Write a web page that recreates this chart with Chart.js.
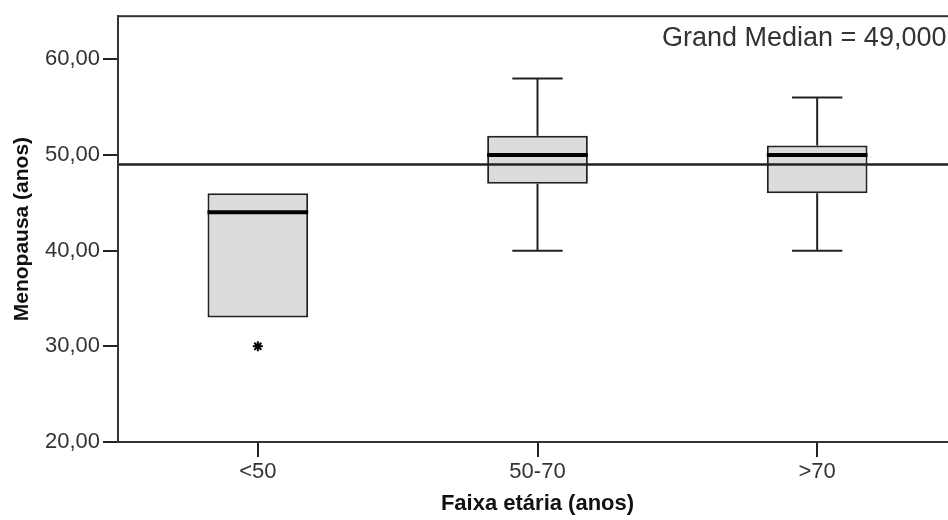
<!DOCTYPE html>
<html>
<head>
<meta charset="utf-8">
<script src="https://cdn.jsdelivr.net/npm/chart.js@4/dist/chart.umd.min.js"></script>
<style>
  html, body { margin: 0; padding: 0; background: #fff; overflow: hidden; }
  #wrap { width: 948px; height: 520px; overflow: hidden; }
</style>
</head>
<body>
<div id="wrap"><canvas id="myChart" width="964" height="520"></canvas></div>
<script>
// boxplot values
var categories = ['<50', '50-70', '>70'];
var whiskerLow = [33, 40, 40];
var q1 = [33, 47, 46];
var median = [44, 50, 50];
var q3 = [46, 52, 51];
var whiskerHigh = [46, 58, 56];
var outliers = [30, null, null];
var grandMedian = 49;
var yTicks = [20, 30, 40, 50, 60];

var lineColor = '#222';
var textColor = '#333';
var fontFamily = '"Liberation Sans", Arial, sans-serif';

var boxes = [];
for (var i = 0; i < categories.length; i++) {
    boxes.push([q1[i], q3[i]]);
}

function fmt(v, d) {
    return v.toFixed(d).replace('.', ',');
}

// whiskers, medians, grand median line and the frame
var boxplotExtras = {
    id: 'boxplotExtras',
    beforeDatasetsDraw: function(chart) {
        var ctx = chart.ctx, x = chart.scales.x, y = chart.scales.y;
        var meta = chart.getDatasetMeta(0);
        ctx.save();
        ctx.strokeStyle = lineColor;
        ctx.lineWidth = 2;
        for (var i = 0; i < categories.length; i++) {
            var cx = x.getPixelForValue(i);
            var capHalf = meta.data[i].width / 4;
            ctx.beginPath();
            if (whiskerHigh[i] > q3[i]) {
                ctx.moveTo(cx, y.getPixelForValue(q3[i]));
                ctx.lineTo(cx, y.getPixelForValue(whiskerHigh[i]));
                ctx.moveTo(cx - capHalf, y.getPixelForValue(whiskerHigh[i]));
                ctx.lineTo(cx + capHalf, y.getPixelForValue(whiskerHigh[i]));
            }
            if (whiskerLow[i] < q1[i]) {
                ctx.moveTo(cx, y.getPixelForValue(q1[i]));
                ctx.lineTo(cx, y.getPixelForValue(whiskerLow[i]));
                ctx.moveTo(cx - capHalf, y.getPixelForValue(whiskerLow[i]));
                ctx.lineTo(cx + capHalf, y.getPixelForValue(whiskerLow[i]));
            }
            ctx.stroke();
        }
        ctx.restore();
    },
    afterDatasetsDraw: function(chart) {
        var ctx = chart.ctx, y = chart.scales.y;
        var area = chart.chartArea;
        var meta = chart.getDatasetMeta(0);
        ctx.save();
        ctx.strokeStyle = '#000';
        ctx.lineWidth = 4;
        for (var i = 0; i < categories.length; i++) {
            var bar = meta.data[i];
            var my = y.getPixelForValue(median[i]);
            ctx.beginPath();
            ctx.moveTo(bar.x - bar.width / 2, my);
            ctx.lineTo(bar.x + bar.width / 2, my);
            ctx.stroke();
        }
        var gy = y.getPixelForValue(grandMedian);
        ctx.strokeStyle = lineColor;
        ctx.lineWidth = 2.5;
        ctx.beginPath();
        ctx.moveTo(area.left, gy);
        ctx.lineTo(area.right, gy);
        ctx.stroke();

        ctx.lineWidth = 2;
        ctx.strokeStyle = '#333';
        ctx.strokeRect(area.left, area.top, area.right - area.left, area.bottom - area.top);

        ctx.fillStyle = textColor;
        ctx.font = '27px ' + fontFamily;
        ctx.textBaseline = 'middle';
        ctx.textAlign = 'left';
        ctx.fillText('Grand Median = ' + fmt(grandMedian, 3), 662, 39);
        ctx.restore();
    }
};

var ctx = document.getElementById('myChart').getContext('2d');

var myBoxChart = new Chart(ctx, {
    type: 'bar',
    data: {
        labels: categories,
        datasets: [{
            data: boxes,
            backgroundColor: '#dcdcdc',
            borderColor: lineColor,
            borderWidth: 2,
            borderSkipped: false,
            barPercentage: 0.36,
            categoryPercentage: 1
        }, {
            type: 'line',
            data: outliers,
            showLine: false,
            pointStyle: 'star',
            pointRadius: 5,
            pointBorderWidth: 2,
            pointBorderColor: '#000',
            pointBackgroundColor: '#000'
        }]
    },
    options: {
        responsive: false,
        animation: false,
        layout: { padding: { left: 0, top: 14, right: 3, bottom: 0 } },
        plugins: {
            legend: { display: false },
            tooltip: { enabled: false }
        },
        scales: {
            x: {
                afterFit: function(scale) { scale.height = 78; },
                grid: { display: true, offset: false, drawOnChartArea: false, drawTicks: true, tickLength: 15, color: lineColor, lineWidth: 2 },
                border: { display: true, color: lineColor, width: 2 },
                ticks: { color: textColor, padding: 2, font: { family: fontFamily, size: 22 } },
                title: {
                    display: true,
                    text: 'Faixa etária (anos)',
                    color: '#111',
                    font: { family: fontFamily, size: 22, weight: 'bold' },
                    padding: { top: 0, bottom: 3 }
                }
            },
            y: {
                min: 20,
                max: 64.5,
                afterFit: function(scale) { scale.width = 118; },
                afterBuildTicks: function(scale) {
                    scale.ticks = yTicks.map(function(v) { return { value: v }; });
                },
                grid: { display: true, drawOnChartArea: false, drawTicks: true, tickLength: 15, color: lineColor, lineWidth: 2 },
                border: { display: true, color: lineColor, width: 2 },
                ticks: {
                    color: textColor,
                    padding: 3,
                    font: { family: fontFamily, size: 22 },
                    callback: function(v) { return fmt(v, 2); }
                },
                title: {
                    display: true,
                    text: 'Menopausa (anos)',
                    color: '#111',
                    font: { family: fontFamily, size: 21, weight: 'bold' },
                    padding: { top: 10, bottom: 0 }
                }
            }
        }
    },
    plugins: [boxplotExtras]
});
</script>
</body>
</html>
